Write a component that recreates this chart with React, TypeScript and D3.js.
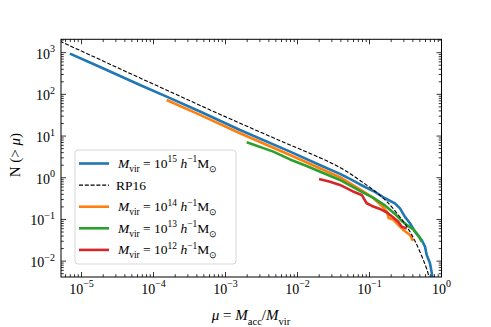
import React from 'react';
import * as d3 from 'd3';

// cumulative merger counts N(>mu)
const blueMu = [6.9e-6, 1.81e-5, 6.49e-5, 1.52e-4, 4.42e-4, 1.59e-3, 7.87e-3, 0.0207, 0.0389, 0.0534, 0.0738, 0.113, 0.164, 0.226, 0.265, 0.311, 0.365, 0.428, 0.531, 0.59, 0.623, 0.692, 0.75, 0.787];
const blueN = [950, 454, 168, 88, 38.9, 14.0, 4.23, 1.99, 1.24, 0.94, 0.69, 0.482, 0.322, 0.242, 0.184, 0.115, 0.081, 0.051, 0.0322, 0.0223, 0.0141, 0.0089, 0.0042, 0.0027];

const orangeMu = [1.52e-4, 4.42e-4, 1.59e-3, 7.87e-3, 0.0389, 0.0738, 0.113, 0.154, 0.175, 0.184, 0.212, 0.239, 0.295, 0.365, 0.402];
const orangeN = [73.4, 32.1, 11.7, 3.52, 1.03, 0.524, 0.328, 0.1995, 0.151, 0.1086, 0.1, 0.081, 0.056, 0.0425, 0.0305];

const greenMu = [1.97e-3, 4.61e-3, 7.87e-3, 0.0134, 0.0228, 0.0389, 0.0738, 0.113, 0.164, 0.226, 0.28, 0.346, 0.406, 0.476, 0.531];
const greenN = [7.1, 4.23, 2.75, 1.92, 1.3, 0.885, 0.482, 0.328, 0.217, 0.1355, 0.092, 0.0698, 0.0576, 0.0413, 0.0294];

const redMu = [0.0199, 0.0283, 0.0389, 0.059, 0.0779, 0.0914, 0.108, 0.14, 0.175, 0.214, 0.251, 0.28, 0.329];
const redN = [0.936, 0.806, 0.672, 0.469, 0.387, 0.2445, 0.211, 0.1786, 0.147, 0.1117, 0.0886, 0.0672, 0.0608];

const rp16Mu = [5e-6, 6.49e-5, 1.59e-3, 7.87e-3, 0.01492, 0.0283, 0.0457, 0.0738, 0.113, 0.173, 0.239, 0.329, 0.428, 0.531, 0.623, 0.692];
const rp16N = [1890, 247, 20.3, 6.12, 3.83, 2.33, 1.5, 0.861, 0.51, 0.27, 0.143, 0.0679, 0.0305, 0.0133, 0.0065, 0.00354];

const xExps = [-5, -4, -3, -2, -1, 0];
const yExps = [-2, -1, 0, 1, 2, 3];
const massExps = ['15', '14', '13', '12'];

const W = 491;
const H = 327;
const FONT = 'Liberation Serif';

const x = d3.scaleLog().domain([Math.pow(10, -5.285), 1]).range([61, 441.5]);
const y = d3.scaleLog().domain([Math.pow(10, -2.38), Math.pow(10, 3.32)]).range([277, 39.3]);

const minorTicks = (scale) => {
  const [a, b] = scale.domain();
  const out = [];
  for (let k = Math.floor(Math.log10(a)); k <= Math.ceil(Math.log10(b)); k++) {
    for (let m = 2; m <= 9; m++) {
      const v = m * Math.pow(10, k);
      if (v >= a && v <= b) out.push(v);
    }
  }
  return out;
};

const zip = (mu, n) => mu.map((m, i) => [m, n[i]]);

const line = d3.line().x(d => x(d[0])).y(d => y(d[1]));
const smooth = d3.line().x(d => x(d[0])).y(d => y(d[1])).curve(d3.curveMonotoneX);

// small mathtext helper: segments with baseline / sub / sup placement
const Math_ = ({ segs, size }) => {
  let cur = 0;
  return segs.map((s, i) => {
    const target = s.pos === 'sub' ? size * 0.3 : s.pos === 'sup' ? -size * 0.42 : 0;
    const dy = target - cur;
    cur = target;
    return (
      <tspan
        key={i}
        dy={dy}
        fontStyle={s.it ? 'italic' : 'normal'}
        fontSize={s.pos ? size * 0.7 : size}
      >{s.t}</tspan>
    );
  });
};

const massLabel = (e) => [
  { t: 'M', it: true },
  { t: 'vir', pos: 'sub' },
  { t: ' = 10' },
  { t: e, pos: 'sup' },
  { t: ' h', it: true },
  { t: '\u22121', pos: 'sup' },
  { t: 'M' },
  { t: '\u2299', pos: 'sub' },
];

export default function App() {
  const series = [
    { data: zip(blueMu, blueN), color: '#1f77b4' },
    { data: zip(orangeMu, orangeN), color: '#ff7f0e' },
    { data: zip(greenMu, greenN), color: '#2ca02c' },
    { data: zip(redMu, redN), color: '#d62728' },
  ];
  const [x0, x1] = x.range();
  const [y0, y1] = y.range();

  const legendRows = [
    { color: '#1f77b4', label: massLabel(massExps[0]) },
    { color: 'black', dashed: true, label: [{ t: 'RP16' }] },
    { color: '#ff7f0e', label: massLabel(massExps[1]) },
    { color: '#2ca02c', label: massLabel(massExps[2]) },
    { color: '#d62728', label: massLabel(massExps[3]) },
  ];

  return (
    <div style={{ position: 'absolute', left: 0, top: 0 }}>
      <svg width={W} height={H} style={{ display: 'block', background: 'white' }}>
        <defs>
          <clipPath id="plot-clip">
            <rect x={x0} y={y1} width={x1 - x0} height={y0 - y1} />
          </clipPath>
        </defs>

        <g clipPath="url(#plot-clip)">
          {series.map((s, i) => (
            <path key={i} d={line(s.data)} fill="none" stroke={s.color} strokeWidth={2.6} strokeLinejoin="round" />
          ))}
          <path d={smooth(zip(rp16Mu, rp16N))} fill="none" stroke="black" strokeWidth={1.1} strokeDasharray="4,1.8" />
        </g>

        {/* ticks, inward on all four sides */}
        <g stroke="black" strokeWidth={0.8}>
          {xExps.map(e => {
            const px = x(Math.pow(10, e));
            return (
              <g key={'xM' + e}>
                <line x1={px} x2={px} y1={y0} y2={y0 - 5} />
                <line x1={px} x2={px} y1={y1} y2={y1 + 5} />
              </g>
            );
          })}
          {minorTicks(x).map((v, i) => (
            <g key={'xm' + i}>
              <line x1={x(v)} x2={x(v)} y1={y0} y2={y0 - 2.8} />
              <line x1={x(v)} x2={x(v)} y1={y1} y2={y1 + 2.8} />
            </g>
          ))}
          {yExps.map(e => {
            const py = y(Math.pow(10, e));
            return (
              <g key={'yM' + e}>
                <line x1={x0} x2={x0 + 5} y1={py} y2={py} />
                <line x1={x1} x2={x1 - 5} y1={py} y2={py} />
              </g>
            );
          })}
          {minorTicks(y).map((v, i) => (
            <g key={'ym' + i}>
              <line x1={x0} x2={x0 + 2.8} y1={y(v)} y2={y(v)} />
              <line x1={x1} x2={x1 - 2.8} y1={y(v)} y2={y(v)} />
            </g>
          ))}
        </g>

        <rect x={x0} y={y1} width={x1 - x0} height={y0 - y1} fill="none" stroke="black" strokeWidth={1} />

        <g fontFamily={FONT}>
          {/* tick labels */}
          {xExps.map(e => (
            <text key={'xl' + e} x={x(Math.pow(10, e))} y={y0 + 16.5} textAnchor="middle" fontSize={14}>
              <tspan>10</tspan>
              <tspan dy={-6.5} fontSize={10}>{e < 0 ? '\u2212' + Math.abs(e) : String(e)}</tspan>
            </text>
          ))}
          {yExps.map(e => (
            <text key={'yl' + e} x={55} y={y(Math.pow(10, e)) + 6} textAnchor="end" fontSize={14}>
              <tspan>10</tspan>
              <tspan dy={-6.5} fontSize={10}>{e < 0 ? '\u2212' + Math.abs(e) : String(e)}</tspan>
            </text>
          ))}

          {/* axis labels */}
          <text x={251} y={320} textAnchor="middle" fontSize={15}>
            <Math_ size={15} segs={[
              { t: '\u03bc', it: true },
              { t: ' = ' },
              { t: 'M', it: true },
              { t: 'acc', pos: 'sub' },
              { t: '/' },
              { t: 'M', it: true },
              { t: 'vir', pos: 'sub' },
            ]} />
          </text>
          <text transform={`translate(20,${(y0 + y1) / 2 - 3}) rotate(-90)`} textAnchor="middle" fontSize={15}>
            N (&gt; <tspan fontStyle="italic">{'\u03bc'}</tspan>)
          </text>

          {/* legend */}
          <rect x={75} y={150} width={161} height={114} rx={3} fill="white" fillOpacity={0.8} stroke="#cccccc" strokeWidth={0.8} />
          {legendRows.map((r, i) => {
            const cy = 163.5 + i * 21.6;
            return (
              <g key={'lg' + i}>
                <line x1={79} x2={109} y1={cy} y2={cy} stroke={r.color}
                  strokeWidth={r.dashed ? 1.1 : 2.6} strokeDasharray={r.dashed ? '4,1.8' : undefined} />
                <text x={r.dashed ? 116 : 118} y={cy + 4.5} fontSize={13.5}>
                  <Math_ size={13.5} segs={r.label} />
                </text>
              </g>
            );
          })}
        </g>
      </svg>
    </div>
  );
}
